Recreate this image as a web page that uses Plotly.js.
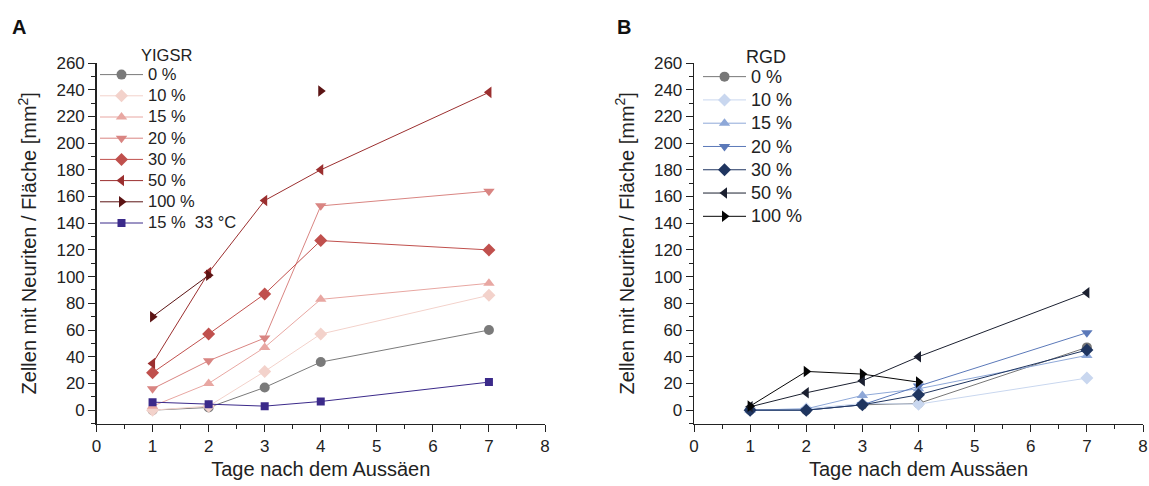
<!DOCTYPE html>
<html>
<head>
<meta charset="utf-8">
<script src="https://cdn.plot.ly/plotly-3.0.1.min.js"></script>
<style>html,body{margin:0;padding:0;background:#fff;}#chart{width:1149px;height:486px;}</style>
</head>
<body>
<div id="chart"></div>
<script>
// ---- data ----
const days = [1, 2, 3, 4, 7];
const xTicks = [0, 1, 2, 3, 4, 5, 6, 7, 8];

const namesA = ["0 %", "10 %", "15 %", "20 %", "30 %", "50 %", "100 %", "15 %  33 °C"];
const yigsr0 = [0, 2, 17, 36, 60];
const yigsr10 = [0, 3, 29, 57, 86];
const yigsr15 = [3, 20, 47, 83, 95];
const yigsr20 = [16, 37, 54, 153, 164];
const yigsr30 = [28, 57, 87, 127, 120];
const yigsr50 = [35, 103, 157, 180, 238];
const yigsr100 = [70, 101, null, 239, null];
const yigsr15at33 = [6, 4.5, 3, 6.5, 21];

const namesB = ["0 %", "10 %", "15 %", "20 %", "30 %", "50 %", "100 %"];
const rgd0 = [0, 0, 4, 5, 47];
const rgd10 = [0, 1, 5, 4.5, 24];
const rgd15 = [0, 1, 11, 16, 41];
const rgd20 = [0, 0, 4, 18, 58];
const rgd30 = [0, 0, 4, 11.5, 45];
const rgd50 = [2.5, 13, 22, 40, 88];
const rgd100 = [3, 29, 27, 21, null];

// ---- styles ----
const colorsA = ["#7a7a7a", "#f3d2cb", "#e8a7a2", "#d98582", "#c0504d", "#9b2f2f", "#5c1414", "#3b2a8a"];
const symbolsA = ["circle", "diamond", "triangle-up", "triangle-down", "diamond", "triangle-left", "triangle-right", "square"];
const colorsB = ["#777777", "#c9d7ef", "#8ea8d8", "#5b79b9", "#1f3560", "#1b2030", "#050505"];
const symbolsB = ["circle", "diamond", "triangle-up", "triangle-down", "diamond", "triangle-left", "triangle-right"];

const seriesA = [yigsr0, yigsr10, yigsr15, yigsr20, yigsr30, yigsr50, yigsr100, yigsr15at33];
const seriesB = [rgd0, rgd10, rgd15, rgd20, rgd30, rgd50, rgd100];

const font = "Liberation Sans, Arial, sans-serif";
const traces = [];
seriesA.forEach((ys, i) => {
  traces.push({
    x: days, y: ys, name: '<span style="font-size:16.5px">' + namesA[i] + '</span>', type: "scatter", mode: "lines+markers",
    xaxis: "x", yaxis: "y", legend: "legend", connectgaps: false,
    line: {color: colorsA[i], width: 1},
    marker: {color: colorsA[i], symbol: symbolsA[i], size: i === 7 ? 8 : 10}
  });
});
seriesB.forEach((ys, i) => {
  traces.push({
    x: days, y: ys, name: '<span style="font-size:18px">' + namesB[i] + '</span>', type: "scatter", mode: "lines+markers",
    xaxis: "x2", yaxis: "y2", legend: "legend2", connectgaps: false,
    line: {color: colorsB[i], width: 1},
    marker: {color: colorsB[i], symbol: symbolsB[i], size: 10}
  });
});

const W = 1149, H = 486;
const px = v => v / W, py = v => (H - v) / H;

function xax(domain) {
  return {
    domain: domain, range: [0, 8], tickvals: xTicks, showline: true, linecolor: "#222", linewidth: 1.3,
    ticks: "outside", ticklen: 7, tickcolor: "#222", zeroline: false, showgrid: false,
    tickfont: {family: font, size: 17, color: "#222"},
    minor: {dtick: 0.5, ticks: "outside", ticklen: 4, tickcolor: "#222"},
    title: {text: "Tage nach dem Aussäen", font: {family: font, size: 20, color: "#222"}, standoff: 6}
  };
}
function yax(anchor) {
  return {
    domain: [py(423.5), py(63)], range: [-10, 260], dtick: 20, tick0: 0, showline: true, linecolor: "#222", linewidth: 1.3,
    ticks: "outside", ticklen: 7, tickcolor: "#222", zeroline: false, showgrid: false, anchor: anchor,
    tickfont: {family: font, size: 17, color: "#222"},
    minor: {dtick: 10, ticks: "outside", ticklen: 4, tickcolor: "#222"},
    title: {text: "Zellen mit Neuriten / Fläche [mm<sup>2</sup>]", font: {family: font, size: 20, color: "#222"}, standoff: 14}
  };
}

const layout = {
  width: W, height: H, margin: {l: 0, r: 0, t: 0, b: 0},
  paper_bgcolor: "#fff", plot_bgcolor: "rgba(0,0,0,0)",
  font: {family: font, color: "#222"},
  xaxis: Object.assign(xax([px(96.5), px(545)]), {anchor: "y"}),
  yaxis: yax("x"),
  xaxis2: Object.assign(xax([px(694), px(1143)]), {anchor: "y2"}),
  yaxis2: yax("x2"),
  legend: {x: px(95), y: py(59), xanchor: "left", yanchor: "top", bgcolor: "rgba(0,0,0,0)",
    font: {family: font, size: 14, color: "#222"}, tracegroupgap: 0, itemwidth: 43},
  legend2: {x: px(698), y: py(60), xanchor: "left", yanchor: "top", bgcolor: "rgba(0,0,0,0)",
    font: {family: font, size: 15.6, color: "#222"}, tracegroupgap: 0, itemwidth: 43},
  showlegend: true,
  annotations: [
    {text: "<b>A</b>", x: px(10), y: py(27), xref: "paper", yref: "paper", xanchor: "left", yanchor: "middle", showarrow: false, font: {family: font, size: 20, color: "#111"}},
    {text: "<b>B</b>", x: px(615), y: py(27), xref: "paper", yref: "paper", xanchor: "left", yanchor: "middle", showarrow: false, font: {family: font, size: 20, color: "#111"}},
    {text: "YIGSR", x: px(139), y: py(55.5), xref: "paper", yref: "paper", xanchor: "left", yanchor: "middle", showarrow: false, font: {family: font, size: 16.5, color: "#222"}},
    {text: "RGD", x: px(744), y: py(57), xref: "paper", yref: "paper", xanchor: "left", yanchor: "middle", showarrow: false, font: {family: font, size: 18, color: "#222"}}
  ]
};

Plotly.newPlot("chart", traces, layout, {displayModeBar: false, staticPlot: true});
</script>
</body>
</html>
